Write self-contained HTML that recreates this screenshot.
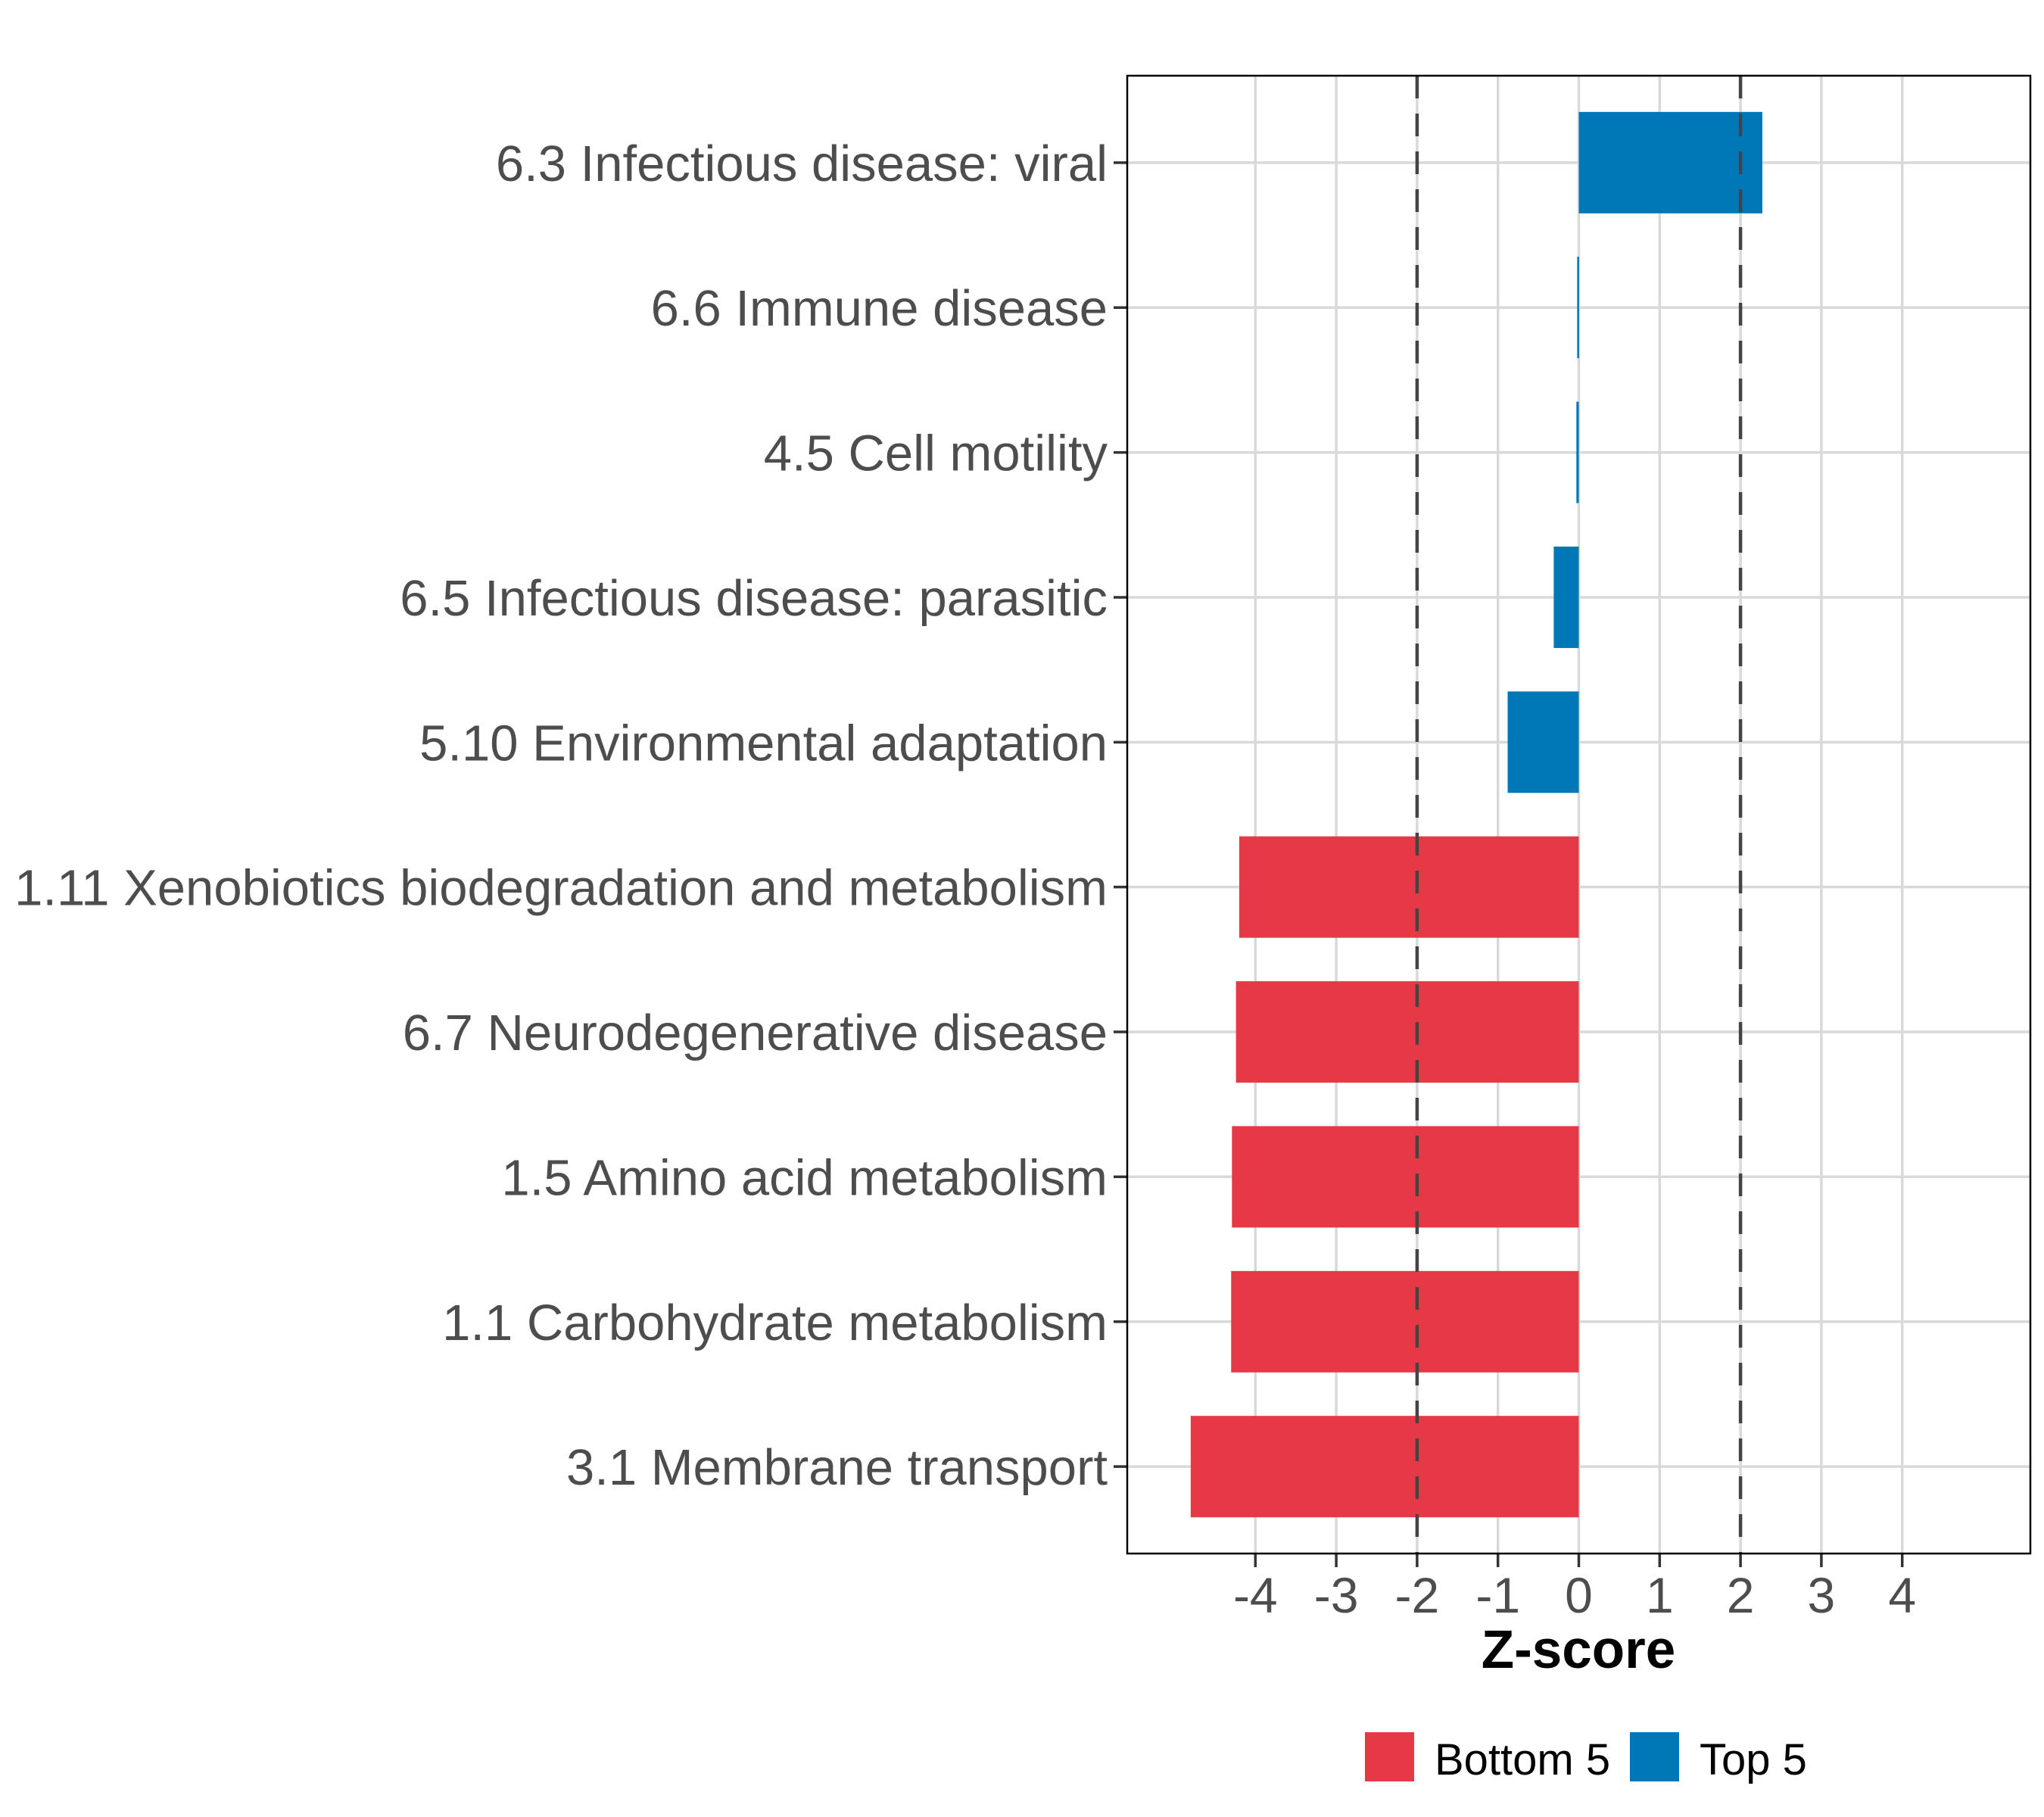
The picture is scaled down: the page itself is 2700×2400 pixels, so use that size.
<!DOCTYPE html>
<html><head><meta charset="utf-8"><style>
html,body{margin:0;padding:0;background:#fff}
svg{display:block;font-family:"Liberation Sans",sans-serif}
</style></head><body>
<svg id="chart" width="2700" height="2400" viewBox="0 0 2700 2400" xmlns="http://www.w3.org/2000/svg">
<rect width="2700" height="2400" fill="#fff"/>
<g id="grid"></g><g id="bars"></g><g id="refs"></g><g id="axes"></g>
<text x="2085" y="2203" font-size="71" font-weight="bold" text-anchor="middle" fill="#000">Z-score</text>
<g>
<rect x="1803" y="2288" width="65" height="65" fill="#E63946"/>
<text x="1895" y="2344" font-size="58" fill="#000">Bottom 5</text>
<rect x="2153" y="2288" width="65" height="65" fill="#0077B6"/>
<text x="2245" y="2344" font-size="58" fill="#000">Top 5</text>
</g>
</svg>
<script>
const categories = ["6.3 Infectious disease: viral","6.6 Immune disease","4.5 Cell motility","6.5 Infectious disease: parasitic","5.10 Environmental adaptation","1.11 Xenobiotics biodegradation and metabolism","6.7 Neurodegenerative disease","1.5 Amino acid metabolism","1.1 Carbohydrate metabolism","3.1 Membrane transport"];
const values = [2.27,-0.02,-0.03,-0.31,-0.88,-4.2,-4.24,-4.29,-4.3,-4.8];
const groups = ["Top 5","Top 5","Top 5","Top 5","Top 5","Bottom 5","Bottom 5","Bottom 5","Bottom 5","Bottom 5"];
const xTicks = [-4,-3,-2,-1,0,1,2,3,4];
const refLines = [-2,2];

const NS="http://www.w3.org/2000/svg";
const L=1489,R=2682,T=100,B=2052,XMIN=-5.585,XMAX=5.585;
const xs=v=>L+(v-XMIN)/(XMAX-XMIN)*(R-L);
const band=(B-T)/(categories.length+0.2);
const ys=i=>T+band*(i+0.6);
const colors={"Top 5":"#0077B6","Bottom 5":"#E63946"};
function mk(tag,attrs,parent,txt){const e=document.createElementNS(NS,tag);for(const k in attrs)e.setAttribute(k,attrs[k]);if(txt!=null)e.textContent=txt;parent.appendChild(e);return e;}
const grid=document.getElementById('grid'),bars=document.getElementById('bars'),refs=document.getElementById('refs'),axes=document.getElementById('axes');
xTicks.forEach(t=>{
  const g=mk('line',{x1:xs(t),x2:xs(t),y1:T,y2:B,stroke:'#d9d9d9','stroke-width':3.5},grid);
  
  
  const tk=mk('line',{x1:xs(t),x2:xs(t),y1:B,y2:B+18,stroke:'#333','stroke-width':3.5},axes);
  
  
  const lb=mk('text',{x:xs(t),y:2130,'font-size':66,'text-anchor':'middle',fill:'#4d4d4d'},axes,String(t));
  
  
});
categories.forEach((c,i)=>{
  const y=ys(i);
  const g=mk('line',{x1:L,x2:R,y1:y,y2:y,stroke:'#d9d9d9','stroke-width':3.5},grid);
  
  
  const v=values[i],h=band*0.7;
  const x0=Math.min(xs(0),xs(v)),w=Math.max(Math.abs(xs(v)-xs(0)),2.5);
  const r=mk('rect',{x:x0,y:y-h/2,width:w,height:h,fill:colors[groups[i]]},bars);
  
  
  const tk=mk('line',{x1:L-18,x2:L,y1:y,y2:y,stroke:'#333','stroke-width':3.5},axes);
  
  
  const lb=mk('text',{x:L-26,y:y+24,'font-size':67,'text-anchor':'end',fill:'#4d4d4d'},axes,c);
  
  
});
refLines.forEach(v=>{
  const l=mk('line',{x1:xs(v),x2:xs(v),y1:T,y2:B,stroke:'#444','stroke-width':4.5,'stroke-dasharray':'30 20'},refs);
  
  
});
const fr=mk('rect',{x:L,y:T,width:R-L,height:B-T,fill:'none',stroke:'#000','stroke-width':2.5},axes);


</script>
</body></html>
